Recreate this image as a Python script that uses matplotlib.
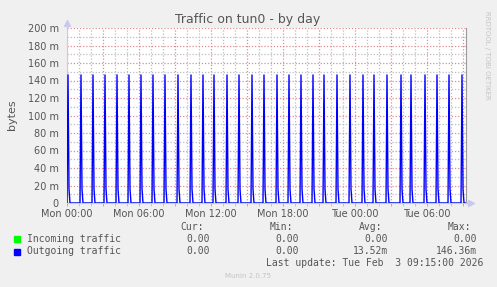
import numpy as np
import matplotlib
matplotlib.use('Agg')
import matplotlib.pyplot as plt

# minutes after Mon 00:00 where the hourly burst shows up
spike_minutes = [5, 70, 130, 190, 250, 310, 370, 430, 490, 555, 620, 680, 735, 800, 860,
                 925, 985, 1050, 1110, 1170, 1230, 1285, 1350, 1415, 1480, 1535, 1600,
                 1670, 1720, 1790, 1850, 1910, 1975]
# peak value of each burst (milli bytes/s)
spike_peaks = [146.36, 146.36, 146.36, 146.36, 146.36, 146.36, 146.36, 146.36, 146.36,
               146.36, 146.36, 146.36, 146.36, 146.36, 146.36, 146.36, 146.36, 146.36,
               146.36, 146.36, 146.36, 146.36, 146.36, 146.36, 146.36, 146.36, 146.36,
               146.36, 146.36, 146.36, 146.36, 146.36, 146.36]
# small remainder in the sample right after each burst
spike_tails = [16, 16, 16, 16, 16, 16, 16, 16, 16, 16, 16, 16, 16, 16, 16, 16, 16, 16,
               16, 16, 16, 16, 16, 16, 16, 16, 16, 16, 16, 16, 16, 16, 16]

end_minute = 1995  # Tue 09:15
x_ticks = [0, 3, 6, 9, 12, 15, 18, 21, 24, 27, 30, 33]
x_labels = ['Mon 00:00', '', 'Mon 06:00', '', 'Mon 12:00', '', 'Mon 18:00', '',
            'Tue 00:00', '', 'Tue 06:00', '']
y_ticks = [0, 20, 40, 60, 80, 100, 120, 140, 160, 180, 200]
y_labels = ['0'] + ['%d m' % v for v in y_ticks[1:]]

legend_names = ['Incoming traffic', 'Outgoing traffic']
legend_colors = ['#00ff00', '#0000ff']
cur_vals = ['0.00', '0.00']
min_vals = ['0.00', '0.00']
avg_vals = ['0.00', '13.52m']
max_vals = ['0.00', '146.36m']

# 5 minute samples
minutes = np.arange(0, end_minute + 1, 5)
incoming = np.zeros(len(minutes))
outgoing = np.zeros(len(minutes))
for m, p, tl in zip(spike_minutes, spike_peaks, spike_tails):
    i = m // 5
    outgoing[i] = p
    if i + 1 < len(outgoing):
        outgoing[i + 1] = tl
hours = minutes / 60.0

W, H = 497, 287
text_col = '#555555'
fig = plt.figure(figsize=(W / 100, H / 100), dpi=100, facecolor='#f0f0f0')
ax = fig.add_axes([67 / W, 84 / H, 399 / W, 175 / H])
ax.set_facecolor('white')

ax.plot(hours, incoming, color='#00ff00', lw=1, zorder=3)
ax.plot(hours, outgoing, color='#0000ff', lw=1, zorder=3)

ax.set_xlim(0, end_minute / 60.0)
ax.set_ylim(0, 200)

ax.set_xticks(x_ticks)
ax.set_xticklabels(x_labels)
ax.set_xticks(np.arange(0, 34, 1), minor=True)
ax.set_yticks(y_ticks)
ax.set_yticklabels(y_labels)
ax.set_yticks(np.arange(0, 201, 10), minor=True)

ax.grid(which='minor', color='#bdbdbd', linestyle=(0, (1, 1.5)), lw=0.9)
ax.grid(which='major', color='#e08c8c', linestyle=(0, (1, 1.5)), lw=0.9)
ax.set_axisbelow(True)

ax.tick_params(which='both', length=2, width=0.6, labelsize=7, labelcolor=text_col, pad=2)
ax.tick_params(axis='x', which='major', color='#e08c8c')
ax.tick_params(axis='x', which='minor', color='#bdbdbd')
ax.tick_params(axis='y', which='both', length=0, pad=6)

ax.spines['top'].set_visible(False)
ax.spines['right'].set_color('#999999')
ax.spines['right'].set_linewidth(0.8)
ax.spines['left'].set_color('#c8c8f0')
ax.spines['bottom'].set_color('#c8c8f0')

# axis arrows
ax.plot([0, 0], [1.0, 1.03], transform=ax.transAxes, color='#c8c8f0', lw=1, clip_on=False)
ax.plot([0], [1.03], marker='^', ms=4, color='#c8c8f0', transform=ax.transAxes, clip_on=False)
ax.plot([1.0, 1.01], [0, 0], transform=ax.transAxes, color='#c8c8f0', lw=1, clip_on=False)
ax.plot([1.012], [0], marker='>', ms=4, color='#c8c8f0', transform=ax.transAxes, clip_on=False)

def px(x, y):
    return x / W, 1 - y / H

fig.text(*px(248, 19), 'Traffic on tun0 - by day', ha='center', va='center',
         fontsize=9, color=text_col)
fig.text(*px(12, 115), 'bytes', ha='center', va='center', rotation=90,
         fontsize=8, color=text_col)
fig.text(*px(487, 55), 'RRDTOOL / TOBI OETIKER', ha='center', va='center', rotation=270,
         fontsize=5, color='#c4c4c4')

mono = dict(family='DejaVu Sans Mono', fontsize=7, color=text_col, va='center')
col_x = [210, 299, 388, 477]
for x, h in zip(col_x, ['Cur:', 'Min:', 'Avg:', 'Max:']):
    fig.text(*px(x - 6, 227), h, ha='right', **mono)
rows_y = [239, 251.5]
for k, name in enumerate(legend_names):
    y = rows_y[k]
    fig.patches.append(plt.Rectangle(px(14, y + 3), 6 / W, 6 / H, transform=fig.transFigure,
                                     color=legend_colors[k], figure=fig))
    fig.text(*px(27, y), name, ha='left', **mono)
    for x, v in zip(col_x, [cur_vals[k], min_vals[k], avg_vals[k], max_vals[k]]):
        fig.text(*px(x, y), v, ha='right', **mono)
fig.text(*px(483, 263.5), 'Last update: Tue Feb  3 09:15:00 2026', ha='right', **mono)
fig.text(*px(248, 276), 'Munin 2.0.75', ha='center', va='center', fontsize=5, color='#c4c4c4')

fig.savefig('out.png', dpi=100, facecolor=fig.get_facecolor())
